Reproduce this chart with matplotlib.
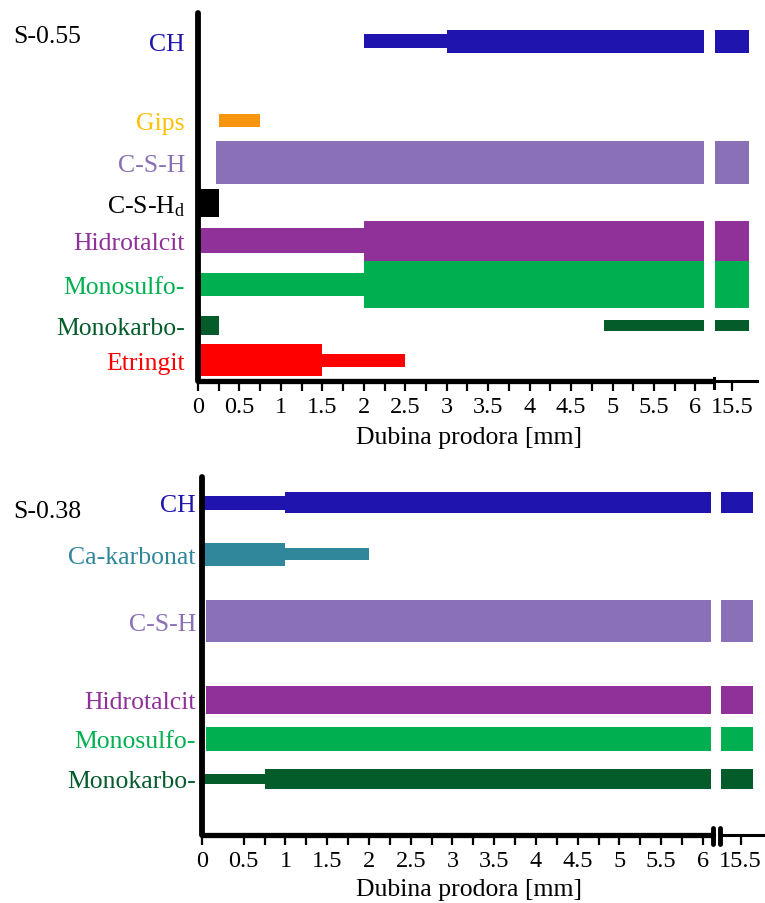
import numpy as np
import matplotlib
matplotlib.use('Agg')
import matplotlib.pyplot as plt

plt.rcParams['font.family'] = ['Liberation Serif', 'DejaVu Serif']
plt.rcParams['mathtext.fontset'] = 'custom'
plt.rcParams['mathtext.rm'] = 'Liberation Serif'
plt.rcParams['mathtext.it'] = 'Liberation Serif:italic'

## data: segments per phase as (start depth, end depth, relative amount)
END_055 = 15.7
END_038 = 15.65

phases_055 = ['CH', 'Gips', 'C-S-H', r'C-S-H$_\mathrm{d}$', 'Hidrotalcit',
              'Monosulfo-', 'Monokarbo-', 'Etringit']
seg_055 = [
    [(2.0, 3.0, 0.34), (3.0, END_055, 0.56)],
    [(0.25, 0.75, 0.32)],
    [(0.22, END_055, 1.05)],
    [(0.0, 0.25, 0.70)],
    [(0.0, 2.0, 0.61), (2.0, END_055, 0.98)],
    [(0.0, 2.0, 0.56), (2.0, END_055, 1.15)],
    [(0.0, 0.25, 0.46), (4.9, END_055, 0.27)],
    [(0.0, 1.5, 0.78), (1.5, 2.5, 0.32)],
]

phases_038 = ['CH', 'Ca-karbonat', 'C-S-H', 'Hidrotalcit', 'Monosulfo-', 'Monokarbo-']
seg_038 = [
    [(0.0, 1.0, 0.34), (1.0, END_038, 0.51)],
    [(0.0, 1.0, 0.56), (1.0, 2.0, 0.29)],
    [(0.05, END_038, 1.02)],
    [(0.05, END_038, 0.68)],
    [(0.05, END_038, 0.59)],
    [(0.0, 0.75, 0.24), (0.75, END_038, 0.49)],
]

tick_major = np.arange(0, 6.01, 0.5)

## styles / layout
bar_col = {'CH': '#1f14ad', 'Gips': '#f7960e', 'C-S-H': '#8a70b7',
           r'C-S-H$_\mathrm{d}$': '#000000', 'Hidrotalcit': '#8f3199',
           'Monosulfo-': '#00b050', 'Monokarbo-': '#055c2b',
           'Etringit': '#ff0000', 'Ca-karbonat': '#30869b'}
lab_col = dict(bar_col)
lab_col['Gips'] = '#ffc000'

rows_055 = [7.77, 5.84, 4.82, 3.83, 2.91, 1.85, 0.85, 0.0]
rows_038 = [6.74, 5.48, 3.85, 1.93, 0.98, 0.0]

W, H = 765, 904
BREAK = 6.1
fs = 18.5      # labels
fs_tick = 17.5


def px_ax(fig, x0, x1, y0, y1):
    return fig.add_axes([x0 / W, 1 - y1 / H, (x1 - x0) / W, (y1 - y0) / H])


def panel(fig, phases, segs, rows, lx, rx, ytop, ybot, xlim_l, xlim_r, ylim,
          minor_start, ypad, title, title_y, xlabel_y, double_break):
    ax = px_ax(fig, lx[0], lx[1], ytop, ybot)
    axr = px_ax(fig, rx[0], rx[1], ytop, ybot)
    rstart = xlim_r[0] + 0.015
    for name, ss, y in zip(phases, segs, rows):
        for (a, b, h) in ss:
            if a < BREAK:
                ax.barh(y, min(b, BREAK) - a, left=a, height=h,
                        color=bar_col[name], lw=0)
            if b > BREAK:
                axr.barh(y, b - rstart, left=rstart, height=h,
                         color=bar_col[name], lw=0)
    for a in (ax, axr):
        a.set_ylim(*ylim)
        a.patch.set_alpha(0)
        for s in ['top', 'right']:
            a.spines[s].set_visible(False)
    ax.set_xlim(*xlim_l)
    axr.set_xlim(*xlim_r)
    ax.spines['left'].set_linewidth(4.2)
    ax.spines['bottom'].set_linewidth(3.8)
    for s in ['left', 'bottom']:
        ax.spines[s].set_capstyle('round')
    axr.spines['left'].set_visible(False)
    axr.spines['bottom'].set_linewidth(2.2)

    ax.set_yticks(rows)
    ax.set_yticklabels(phases, fontsize=fs)
    for t, name in zip(ax.get_yticklabels(), phases):
        t.set_color(lab_col[name])
    ax.tick_params(axis='y', length=0, pad=ypad)
    axr.set_yticks([])

    ax.set_xticks(tick_major)
    ax.set_xticklabels(['{:g}'.format(v) for v in tick_major], fontsize=fs_tick)
    ax.set_xticks(np.arange(minor_start, 6.01, 0.5), minor=True)
    ax.tick_params(axis='x', which='both', length=7, width=1.6, pad=4)
    axr.set_xticks([15.5])
    axr.set_xticklabels(['15.5'], fontsize=fs_tick)
    axr.tick_params(axis='x', length=7, width=1.6, pad=4)

    # break marks
    if double_break:
        ax.plot([1, 1], [-0.025, 0.02], transform=ax.transAxes, color='k',
                lw=3.5, clip_on=False, solid_capstyle='round')
        axr.plot([0, 0], [-0.025, 0.02], transform=axr.transAxes, color='k',
                 lw=3.5, clip_on=False, solid_capstyle='round')
    else:
        axr.plot([0, 0], [-0.018, 0.008], transform=axr.transAxes, color='k',
                 lw=2.2, clip_on=False)

    fig.text(13 / W, 1 - title_y / H, title, fontsize=fs, va='center')
    fig.text(469 / W, 1 - xlabel_y / H, 'Dubina prodora [mm]', fontsize=fs,
             ha='center', va='center')
    return ax, axr


fig = plt.figure(figsize=(W / 100, H / 100), dpi=100)

panel(fig, phases_055, seg_055, rows_055, (198, 712), (714, 757), 14, 382,
      (0, 6.2), (15.28, 15.80), (-0.51, 8.46), 0.25, 9.5,
      'S-0.55', 37, 438, False)
panel(fig, phases_038, seg_038, rows_038, (202, 713), (720, 763), 478, 836,
      (0, 6.12), (15.25, 15.77), (-1.37, 7.37), 0.75, 4.5,
      'S-0.38', 512, 890, True)

fig.savefig('out.png', dpi=100)
